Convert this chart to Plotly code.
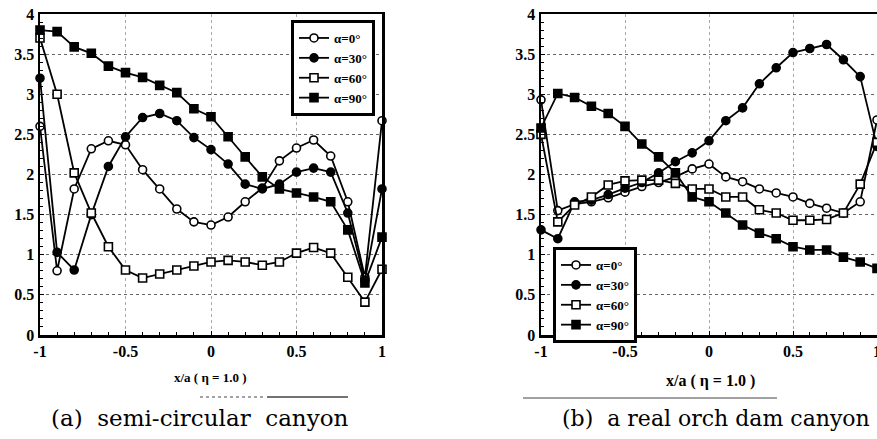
import plotly.graph_objects as go

# ---------------- data ----------------
x_vals = [-1.0, -0.9, -0.8, -0.7, -0.6, -0.5, -0.4, -0.3, -0.2, -0.1, 0.0,
          0.1, 0.2, 0.3, 0.4, 0.5, 0.6, 0.7, 0.8, 0.9, 1.0]

series_names = ["α=0°", "α=30°", "α=60°", "α=90°"]

# (a) semi-circular canyon
a0_left = [2.6, 0.8, 1.82, 2.32, 2.42, 2.37, 2.06, 1.82, 1.57, 1.41, 1.37,
           1.47, 1.66, 1.83, 2.17, 2.33, 2.43, 2.23, 1.66, 0.72, 2.67]
a30_left = [3.2, 1.03, 0.81, 1.5, 2.1, 2.47, 2.71, 2.76, 2.67, 2.46, 2.31,
            2.13, 1.88, 1.82, 1.88, 2.03, 2.08, 2.03, 1.52, 0.68, 1.82]
a60_left = [3.7, 3.0, 2.02, 1.52, 1.1, 0.81, 0.71, 0.76, 0.81, 0.86, 0.91,
            0.93, 0.91, 0.87, 0.91, 1.02, 1.09, 1.02, 0.72, 0.41, 0.82]
a90_left = [3.8, 3.78, 3.59, 3.51, 3.35, 3.27, 3.21, 3.11, 3.02, 2.82, 2.72,
            2.47, 2.22, 1.97, 1.82, 1.77, 1.72, 1.66, 1.31, 0.65, 1.22]

# (b) a real orch dam canyon
a0_right = [2.93, 1.55, 1.63, 1.66, 1.71, 1.78, 1.85, 1.9, 1.97, 2.07, 2.13,
            1.97, 1.91, 1.82, 1.77, 1.72, 1.64, 1.58, 1.52, 1.66, 2.68]
a30_right = [1.31, 1.2, 1.66, 1.68, 1.75, 1.83, 1.9, 2.02, 2.16, 2.27, 2.42,
             2.67, 2.83, 3.13, 3.33, 3.52, 3.57, 3.62, 3.43, 3.22, 2.35]
a60_right = [2.5, 1.41, 1.62, 1.72, 1.87, 1.92, 1.93, 1.93, 1.89, 1.82, 1.82,
             1.72, 1.72, 1.56, 1.52, 1.43, 1.43, 1.44, 1.52, 1.88, 2.4]
a90_right = [2.58, 3.01, 2.96, 2.85, 2.76, 2.6, 2.38, 2.22, 2.02, 1.72, 1.66,
             1.52, 1.37, 1.27, 1.2, 1.1, 1.06, 1.06, 0.97, 0.91, 0.83]

x_ticks = [-1, -0.5, 0, 0.5, 1]
x_ticklabels = ["-1", "-0.5", "0", "0.5", "1"]
y_ticks = [0, 0.5, 1, 1.5, 2, 2.5, 3, 3.5, 4]
y_ticklabels = ["0", "0.5", "1", "1.5", "2", "2.5", "3", "3.5", "4"]

x_title_left = "x/a ( η = 1.0 )"
x_title_right = "x/a ( η = 1.0 )"
caption_left = "(a)\u00a0\u00a0semi-circular\u00a0\u00a0canyon"
caption_right = "(b)\u00a0\u00a0a\u00a0real\u00a0orch\u00a0dam\u00a0canyon"

# ---------------- styling ----------------
W, H = 877, 439
OFF = 0  # page body margin is removed below, so paper pixels == screen pixels
SCR_LEFT, SCR_TOP, SCR_BOTTOM, SCR_RIGHT = 40, 14, 335, 877
ML = SCR_LEFT - OFF
MT = SCR_TOP - OFF
MB = H - (SCR_BOTTOM - OFF)
MR = W - (SCR_RIGHT - OFF)
symbols = ["circle", "circle", "square", "square"]
fills = ["white", "black", "white", "black"]
SERIF = "Liberation Serif, Times New Roman, serif"
WIDE_SERIF = "DejaVu Serif, Liberation Serif, serif"

fig = go.Figure()

left_data = [a0_left, a30_left, a60_left, a90_left]
right_data = [a0_right, a30_right, a60_right, a90_right]

for panel, (data, xa, ya, lg) in enumerate([(left_data, "x", "y", "legend"),
                                            (right_data, "x2", "y2", "legend2")]):
    for i, (name, ys) in enumerate(zip(series_names, data)):
        fig.add_trace(go.Scatter(
            x=x_vals, y=ys, mode="lines+markers", name=name,
            xaxis=xa, yaxis=ya, legend=lg, cliponaxis=False,
            line=dict(color="black", width=1.8),
            marker=dict(symbol=symbols[i], size=8, color=fills[i],
                        line=dict(color="black", width=1.6)),
        ))

plot_w = W - ML - MR
plot_h = H - MT - MB


def px_to_xd(px):
    return (px - OFF - ML) / plot_w


def py_to_yd(py):
    return 1 - (py - OFF - MT) / plot_h


tickfont = dict(family=SERIF, size=16, color="black", weight="bold")

common_x = dict(
    range=[-1, 1], tickmode="array", tickvals=x_ticks, ticktext=x_ticklabels,
    showline=True, linecolor="black", linewidth=2.5, mirror=True,
    ticks="inside", ticklen=4, tickcolor="black",
    minor=dict(ticks="inside", dtick=0.1, ticklen=3, tickcolor="black", showgrid=False),
    showgrid=True, gridcolor="#aaaaaa", griddash="dot", gridwidth=1,
    zeroline=False, tickfont=tickfont, fixedrange=True, automargin=False,
    ticklabeloverflow="allow",
)
common_y = dict(
    range=[0, 4], tickmode="array", tickvals=y_ticks, ticktext=y_ticklabels,
    showline=True, linecolor="black", linewidth=2.5, mirror=True,
    ticks="inside", ticklen=4, tickcolor="black",
    minor=dict(ticks="inside", dtick=0.1, ticklen=3, tickcolor="black", showgrid=False),
    showgrid=True, gridcolor="#666666", griddash="dot", gridwidth=1,
    zeroline=False, tickfont=tickfont, fixedrange=True, automargin=False,
    ticklabeloverflow="allow",
)

legend_font = dict(family=SERIF, size=13, color="black", weight="bold")

fig.update_layout(
    width=W, height=H,
    margin=dict(l=ML, r=MR, t=MT, b=MB, autoexpand=False),
    paper_bgcolor="white", plot_bgcolor="white",
    hovermode=False,
    xaxis=dict(domain=[0, px_to_xd(382)], anchor="y", **common_x),
    yaxis=dict(domain=[0, 1], anchor="x", **common_y),
    xaxis2=dict(domain=[px_to_xd(541), 1], anchor="y2", **common_x),
    yaxis2=dict(domain=[0, 1], anchor="x2", **common_y),
    legend=dict(x=px_to_xd(291), y=py_to_yd(20), xanchor="left", yanchor="top",
                bgcolor="white", bordercolor="black", borderwidth=3,
                font=legend_font, tracegroupgap=0, itemwidth=30),
    legend2=dict(x=px_to_xd(553), y=py_to_yd(247), xanchor="left", yanchor="top",
                 bgcolor="white", bordercolor="black", borderwidth=3,
                 font=legend_font, tracegroupgap=0, itemwidth=30),
    showlegend=True,
)

annos = [
    dict(text=x_title_left, x=210, y=377, size=13, weight="bold", fam=SERIF),
    dict(text=x_title_right, x=710, y=381, size=16, weight="bold", fam=SERIF),
    dict(text=caption_left, x=199, y=418, size=23, weight="normal", fam=WIDE_SERIF),
    dict(text=caption_right, x=716, y=418, size=22, weight="normal", fam=WIDE_SERIF),
]
for a in annos:
    fig.add_annotation(
        text=a["text"], xref="paper", yref="paper",
        x=px_to_xd(a["x"]), y=py_to_yd(a["y"]),
        xanchor="center", yanchor="middle", showarrow=False,
        font=dict(family=a["fam"], size=a["size"], color="black", weight=a["weight"]),
    )

# faint rule lines under the axis titles (scan artifacts in the original figure)
rules = [
    (200, 265, 397, "dot", 1), (267, 348, 397, "solid", 1.5),
    (523, 777, 398, "solid", 1),
]
for x0, x1, yy, dash, wd in rules:
    fig.add_shape(type="line", xref="paper", yref="paper",
                  x0=px_to_xd(x0), x1=px_to_xd(x1), y0=py_to_yd(yy), y1=py_to_yd(yy),
                  line=dict(color="#444444", width=wd, dash=dash))

fig.write_html("out.html",
               config={"displayModeBar": False, "staticPlot": True},
               post_script="document.body.style.margin='0';"
                           "document.body.style.overflow='hidden';")
